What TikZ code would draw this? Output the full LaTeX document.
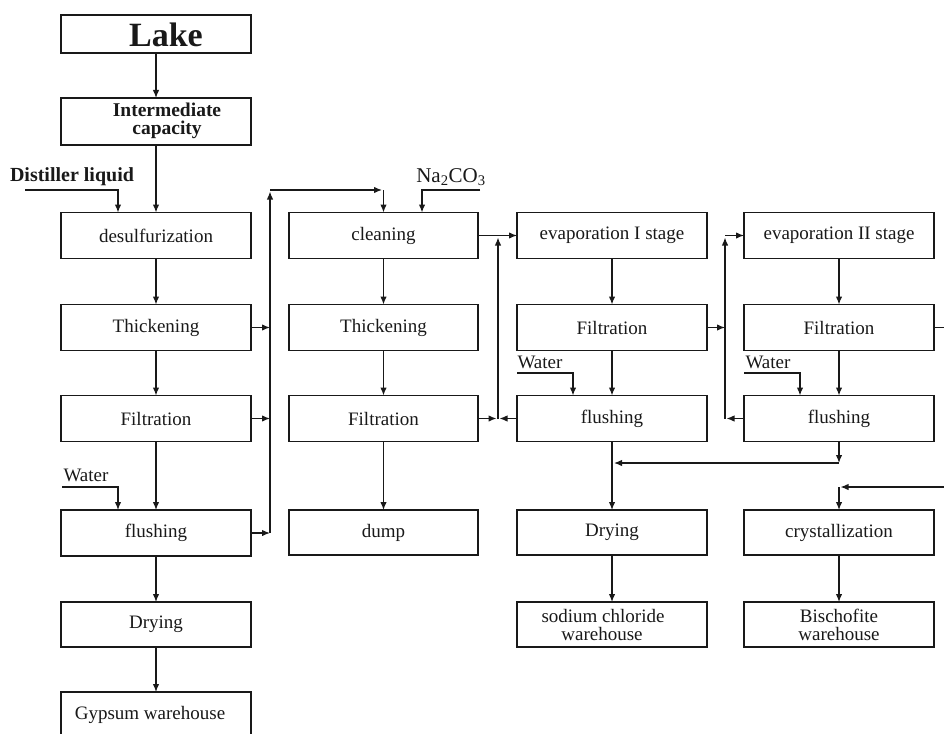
\documentclass[tikz,border=0pt]{standalone}
\usepackage{fontspec}
\setmainfont{Liberation Serif}
\usetikzlibrary{arrows.meta,calc}
\definecolor{ink}{RGB}{25,25,25}
\begin{document}
\begin{tikzpicture}[x=1pt,y=-1pt,
 box/.style={draw=ink,line width=1.8pt,rectangle,minimum height=46pt,minimum width=190pt,inner sep=0pt,outer sep=0pt,font=\fontsize{19}{18}\selectfont,text=ink,align=center},
 arr/.style={draw=ink,line width=1.3pt,-{Latex[length=8pt,width=6.5pt]}},
 ln/.style={draw=ink,line width=1.3pt},
 lbl/.style={font=\fontsize{19}{18}\selectfont,text=ink,inner sep=0pt,align=center},
 blbl/.style={font=\fontsize{19.5}{18}\selectfont\bfseries,text=ink,inner sep=0pt,align=center}]
\useasboundingbox[fill=white] (0,0) rectangle (944,733);

% column 1
\node[box,minimum height=38pt] (lake) at (156,34) {};
\node[inner sep=0pt,font=\fontsize{34}{36}\selectfont\bfseries,text=ink] (lakeT) at (166,35) {Lake};
\node[box,minimum height=47pt] (int) at (156,121.5) {};
\node[blbl] (intT) at (167,121) {Intermediate\\capacity};
\node[box] (desulf) at (156,235.5) {desulfurization};
\node[box] (thick1) at (156,327.5) {Thickening};
\node[box] (filt1) at (156,418.5) {Filtration};
\node[box] (flush1) at (156,533) {flushing};
\node[box,minimum height=45pt] (dry1) at (156,624.5) {Drying};
\node[box,minimum height=48pt] (gyp) at (156,716) {};
\node[lbl] (gypT) at (150,715) {Gypsum warehouse};

% column 2
\node[box,minimum width=189pt] (clean) at (383.5,235.5) {cleaning};
\node[box,minimum width=189pt] (thick2) at (383.5,327.5) {Thickening};
\node[box,minimum width=189pt] (filt2) at (383.5,418.5) {Filtration};
\node[box,minimum width=189pt,minimum height=45pt] (dump) at (383.5,532.5) {dump};

% column 3
\node[box] (evap1) at (612,235.5) {evaporation I stage};
\node[box] (filt3) at (612,327.5) {Filtration};
\node[box] (flush3) at (612,418.5) {flushing};
\node[box,minimum height=45pt] (dry3) at (612,532.5) {Drying};
\node[box,minimum height=45pt] (nacl) at (612,624.5) {\hspace*{-18pt}sodium chloride\\\hspace*{-20pt}warehouse};

% column 4
\node[box] (evap2) at (839,235.5) {evaporation II stage};
\node[box] (filt4) at (839,327.5) {Filtration};
\node[box] (flush4) at (839,418.5) {flushing};
\node[box,minimum height=45pt] (cryst) at (839,532.5) {crystallization};
\node[box,minimum height=45pt] (bisch) at (839,624.5) {Bischofite\\warehouse};

% side labels
\node[blbl,font=\fontsize{20}{20}\selectfont\bfseries] (dist) at (72,177) {Distiller liquid};
\node[lbl] (wat1) at (86,475) {Water};
\node[lbl] (wat3) at (540,362) {Water};
\node[lbl] (wat4) at (768,362) {Water};
\node[lbl,font=\fontsize{21}{20}\selectfont] (na) at (451,177) {Na\textsubscript{2}CO\textsubscript{3}};

% column 1 flow
\draw[arr] (lake.south) -- (int.north);
\draw[arr] (int.south) -- (desulf.north);
\draw[arr] (desulf.south) -- (thick1.north);
\draw[arr] (thick1.south) -- (filt1.north);
\draw[arr] (filt1.south) -- (flush1.north);
\draw[arr] (flush1.south) -- (dry1.north);
\draw[arr] (dry1.south) -- (gyp.north);
\coordinate (dlA) at (25,190);
\coordinate (dlB) at (118,190);
\draw[arr] (dlA) -- (dlB) -- (dlB |- desulf.north);
\coordinate (w1A) at (62,487);
\coordinate (w1B) at (118,487);
\draw[arr] (w1A) -- (w1B) -- (w1B |- flush1.north);

% bus 1
\coordinate (b1top) at (270,190);
\coordinate (b1bot) at (270,533);
\coordinate (b1end) at (383.5,190);
\draw[arr] (thick1.east) -- (thick1.east -| b1top);
\draw[arr] (filt1.east) -- (filt1.east -| b1top);
\draw[arr] (flush1.east) -- (b1bot);
\draw[arr] (b1bot) -- ($(b1top)+(0,1.5)$);
\draw[arr,shorten >=1.5pt] (b1top) -- (b1end);
\draw[arr] (b1end) -- (clean.north);
\coordinate (naA) at (480,190);
\coordinate (naB) at (422,190);
\draw[arr] (naA) -- (naB) -- (naB |- clean.north);

% column 2 flow
\draw[arr] (clean.south) -- (thick2.north);
\draw[arr] (thick2.south) -- (filt2.north);
\draw[arr] (filt2.south) -- (dump.north);

% bus 2
\coordinate (b2top) at (498,235.5);
\coordinate (b2bot) at (498,418.5);
\draw[arr] (clean.east) -- (evap1.west);
\draw[arr] (b2bot) -- ($(b2top)+(0,2)$);
\draw[arr] (filt2.east) -- ($(b2bot)+(-1.5,0)$);
\draw[arr] (flush3.west) -- ($(b2bot)+(1.5,0)$);

% column 3 flow
\draw[arr] (evap1.south) -- (filt3.north);
\draw[arr] (filt3.south) -- (flush3.north);
\draw[arr] (flush3.south) -- (dry3.north);
\draw[arr] (dry3.south) -- (nacl.north);
\coordinate (w3A) at (517,373);
\coordinate (w3B) at (573,373);
\draw[arr] (w3A) -- (w3B) -- (w3B |- flush3.north);

% bus 3
\coordinate (b3top) at (725,235.5);
\coordinate (b3bot) at (725,418.5);
\draw[arr] (b3bot) -- ($(b3top)+(0,2)$);
\draw[arr] (b3top) -- (evap2.west);
\draw[arr] (filt3.east) -- (filt3.east -| b3top);
\draw[arr] (flush4.west) -- ($(b3bot)+(1.5,0)$);

% column 4 flow
\draw[arr] (evap2.south) -- (filt4.north);
\draw[arr] (filt4.south) -- (flush4.north);
\draw[arr] (cryst.south) -- (bisch.north);
\coordinate (w4A) at (744,373);
\coordinate (w4B) at (800,373);
\draw[arr] (w4A) -- (w4B) -- (w4B |- flush4.north);
\coordinate (f4out) at (944,327.5);
\draw[ln] (filt4.east) -- (f4out);
\coordinate (crA) at (944,487);
\coordinate (crB) at (839,487);
\draw[arr,shorten >=1.5pt] (crA) -- (crB);
\draw[arr] (crB) -- (cryst.north);
\coordinate (jn4) at (839,463);
\coordinate (jn3) at (612,463);
\draw[arr] (flush4.south) -- (jn4);
\draw[arr,shorten >=2pt] (jn4) -- (jn3);
\end{tikzpicture}
\end{document}
